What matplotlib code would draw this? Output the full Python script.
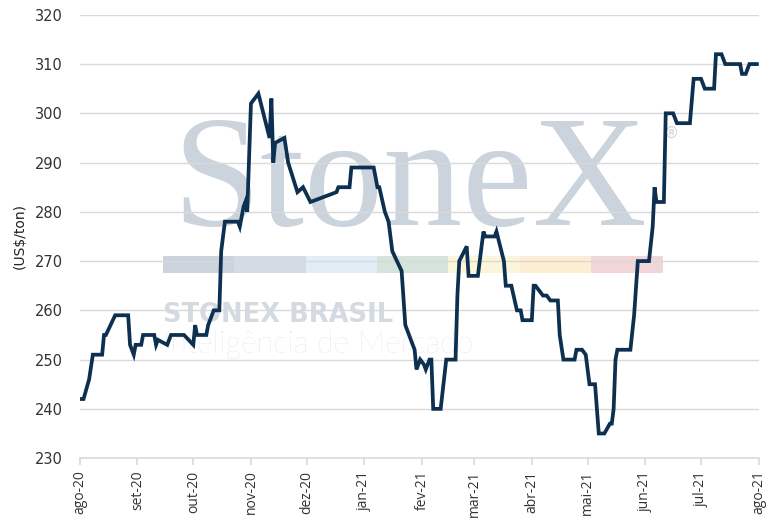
import matplotlib

matplotlib.use("Agg")
import matplotlib.pyplot as plt
import pandas as pd
from matplotlib.patches import Rectangle

# price series (US$/ton)
dates = [
    "2020-08-01", "2020-08-03", "2020-08-06", "2020-08-08", "2020-08-13",
    "2020-08-14", "2020-08-15", "2020-08-20", "2020-08-27", "2020-08-28",
    "2020-08-30", "2020-08-31", "2020-09-03", "2020-09-04", "2020-09-10",
    "2020-09-11", "2020-09-12", "2020-09-17", "2020-09-19", "2020-09-26",
    "2020-10-01", "2020-10-02", "2020-10-03", "2020-10-08", "2020-10-09",
    "2020-10-12", "2020-10-15", "2020-10-16", "2020-10-18", "2020-10-25",
    "2020-10-26", "2020-10-28", "2020-10-29", "2020-10-30", "2020-11-01",
    "2020-11-05", "2020-11-11", "2020-11-12", "2020-11-13", "2020-11-14",
    "2020-11-19", "2020-11-21", "2020-11-26", "2020-11-29", "2020-12-03",
    "2020-12-17", "2020-12-18", "2020-12-24", "2020-12-25", "2021-01-06",
    "2021-01-08", "2021-01-09", "2021-01-12", "2021-01-14", "2021-01-15",
    "2021-01-16", "2021-01-21", "2021-01-23", "2021-01-24", "2021-01-28",
    "2021-01-29", "2021-01-31", "2021-02-02", "2021-02-03", "2021-02-05",
    "2021-02-06", "2021-02-07", "2021-02-11", "2021-02-14", "2021-02-19",
    "2021-02-20", "2021-02-21", "2021-02-25", "2021-02-26", "2021-03-03",
    "2021-03-06", "2021-03-07", "2021-03-12", "2021-03-13", "2021-03-17",
    "2021-03-18", "2021-03-21", "2021-03-24", "2021-03-26", "2021-03-27",
    "2021-04-01", "2021-04-02", "2021-04-03", "2021-04-07", "2021-04-09",
    "2021-04-11", "2021-04-15", "2021-04-16", "2021-04-18", "2021-04-24",
    "2021-04-25", "2021-04-28", "2021-04-30", "2021-05-02", "2021-05-05",
    "2021-05-07", "2021-05-10", "2021-05-13", "2021-05-14", "2021-05-15",
    "2021-05-16", "2021-05-17", "2021-05-24", "2021-05-26", "2021-05-28",
    "2021-06-03", "2021-06-05", "2021-06-06", "2021-06-07", "2021-06-11",
    "2021-06-12", "2021-06-16", "2021-06-18", "2021-06-25", "2021-06-27",
    "2021-07-01", "2021-07-03", "2021-07-08", "2021-07-09", "2021-07-12",
    "2021-07-14", "2021-07-22", "2021-07-23", "2021-07-25", "2021-07-27",
    "2021-07-31",
]
prices = [
    242, 242, 246, 251, 251,
    255, 255, 259, 259, 253,
    251, 253, 253, 255, 255,
    253, 254, 253, 255, 255,
    253, 257, 255, 255, 257,
    260, 260, 272, 278, 278,
    277, 281, 282, 280, 302,
    304, 295, 303, 290, 294,
    295, 290, 284, 285, 282,
    284, 285, 285, 289, 289,
    285, 285, 280, 278, 275,
    272, 268, 257, 256, 252,
    248, 250, 249, 248, 250,
    250, 240, 240, 250, 250,
    263, 270, 273, 267, 267,
    276, 275, 275, 276, 270,
    265, 265, 260, 260, 258,
    258, 265, 265, 263, 263,
    262, 262, 255, 250, 250,
    252, 252, 251, 245, 245,
    235, 235, 237, 237, 240,
    250, 252, 252, 259, 270,
    270, 277, 285, 282, 282,
    300, 300, 298, 298, 307,
    307, 305, 305, 312, 312,
    310, 310, 308, 308, 310,
    310,
]
month_labels = [
    "ago-20", "set-20", "out-20", "nov-20", "dez-20", "jan-21", "fev-21",
    "mar-21", "abr-21", "mai-21", "jun-21", "jul-21", "ago-21",
]
y_ticks = list(range(230, 321, 10))

# watermark colour strip
strip_colors = [
    "#cbd3dc", "#d3dbe7", "#e3edf6", "#d4e4dc", "#fbf5da", "#fdedd2", "#f0d6d8",
]

LINE = "#0d3050"
GRID = "#d9d9d9"
TEXT = "#333333"

x = pd.to_datetime(dates)
month_starts = pd.date_range("2020-08-01", "2021-08-01", freq="MS")

figure = plt.figure(figsize=(7.75, 5.29), dpi=100)
axes = figure.add_axes((0.103, 0.134, 0.876, 0.838))

# StoneX watermark, behind grid and line
axes.text((410 - 80) / 679, (458 - 225) / 443, "StoneX",
          transform=axes.transAxes, ha="center", va="baseline", fontsize=114,
          family="Liberation Serif", color="#cbd4dc", zorder=0)
axes.text((672 - 80) / 679, (458 - 133) / 443, "®", transform=axes.transAxes,
          ha="center", va="center", fontsize=11, color="#cdd6de", zorder=0)
strip_left, strip_width = (163 - 80) / 679, 500 / 679
for index, color in enumerate(strip_colors):
    axes.add_patch(Rectangle(
        (strip_left + index * strip_width / 7, (458 - 273) / 443),
        strip_width / 7, 17 / 443, transform=axes.transAxes,
        facecolor=color, edgecolor="none", zorder=0,
    ))
axes.text(strip_left, (458 - 322) / 443, "STONEX BRASIL",
          transform=axes.transAxes, ha="left", va="baseline", fontsize=18.5,
          family="DejaVu Sans", fontweight="bold", color="#d3dae2", zorder=0)
axes.text(strip_left, (458 - 353) / 443, "Inteligência de Mercado",
          transform=axes.transAxes, ha="left", va="baseline", fontsize=22,
          family="Lato", fontweight="light", color="#d6dce3", zorder=0)

axes.plot(x, prices, color=LINE, linewidth=2.7, solid_joinstyle="miter",
          zorder=3)

axes.set_ylim(230, 320)
axes.set_yticks(y_ticks)
axes.set_xlim(month_starts[0], month_starts[-1])
axes.set_xticks(month_starts)
axes.set_xticklabels(month_labels, rotation=90)

axes.grid(axis="y", color=GRID, linewidth=1, zorder=1)
axes.set_axisbelow(True)
for side in ["top", "right", "left"]:
    axes.spines[side].set_visible(False)
axes.spines["bottom"].set_color(GRID)
axes.spines["bottom"].set_linewidth(1.2)
axes.tick_params(axis="y", length=0, pad=12, labelsize=10.5, labelcolor=TEXT)
axes.tick_params(axis="x", length=5, color=GRID, width=1.2, pad=4,
                 labelsize=10, labelcolor=TEXT)
for label in axes.get_xticklabels():
    label.set_family("Open Sans")

axes.set_ylabel("(US$/ton)", fontsize=10, color="#222222", labelpad=6)

figure.savefig("out.png", dpi=100)
